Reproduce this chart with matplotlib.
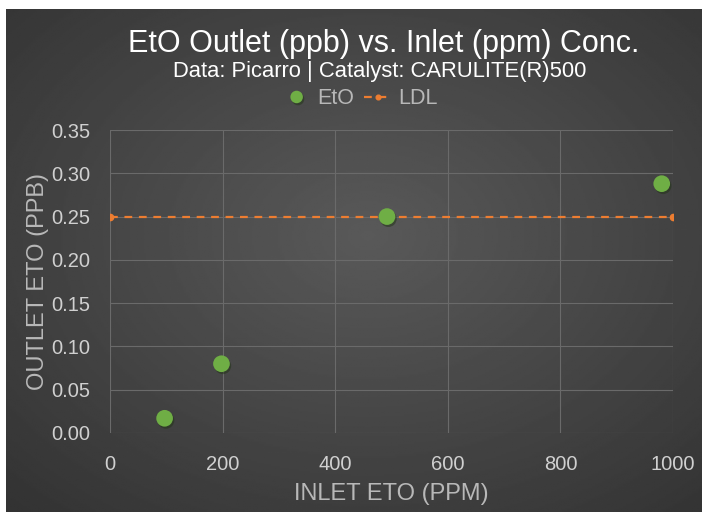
import numpy as np
import matplotlib
matplotlib.use("Agg")
import matplotlib.pyplot as plt
import matplotlib.patheffects as pe

plt.rcParams['font.family'] = ['Liberation Sans', 'DejaVu Sans']

inlet_ppm = [97, 198, 492, 980]
outlet_ppb = [0.017, 0.080, 0.250, 0.288]
ldl_x = [0, 1000]
ldl_y = [0.25, 0.25]

x_ticks = [0, 200, 400, 600, 800, 1000]
y_ticks = [0.00, 0.05, 0.10, 0.15, 0.20, 0.25, 0.30, 0.35]

green = "#6fae45"
orange = "#ed7d31"
tick_col = "#d0d0d0"
label_col = "#b8b8b8"

fig = plt.figure(figsize=(7.02, 5.12), dpi=100, facecolor="white")

# dark radial gradient background (white strip top/left as in the source)
bg = fig.add_axes([6 / 702, 0, 1 - 6 / 702, 1 - 9 / 512])
yy, xx = np.mgrid[0:1:300j, 0:1:400j]
r = np.sqrt(((xx - 0.52) / 0.9) ** 2 + ((yy - 0.45) / 0.9) ** 2)
shade = np.clip(0.35 - 0.18 * r, 0.2, 0.35)
bg.imshow(shade, cmap="gray", vmin=0, vmax=1, aspect="auto", extent=[0, 1, 0, 1])
bg.set_axis_off()

ax = fig.add_axes([110 / 702, 1 - 433 / 512, 563 / 702, 303 / 512])
ax.set_facecolor("none")

ax.plot(ldl_x, ldl_y, linestyle=(0, (3.5, 3)), color=orange, linewidth=1.6,
        marker="o", markersize=4.5, label="LDL", zorder=3)
ax.plot(inlet_ppm, outlet_ppb, linestyle="none", marker="o", markersize=12,
        color=green, markeredgewidth=0, label="EtO", zorder=4,
        path_effects=[pe.SimplePatchShadow(offset=(1, -1.5), alpha=0.5), pe.Normal()])

ax.set_xlim(0, 1000)
ax.set_ylim(0, 0.35)
ax.set_xticks(x_ticks)
ax.set_yticks(y_ticks)
ax.set_yticklabels([f"{v:.2f}" for v in y_ticks])
ax.grid(True, color="#6a6a6a", linewidth=0.8)
ax.set_axisbelow(True)
for s in ax.spines.values():
    s.set_visible(False)
ax.tick_params(length=0, colors=tick_col, labelsize=14.5)
ax.tick_params(axis="y", pad=14)
ax.tick_params(axis="x", pad=16)

ax.set_xlabel("INLET ETO (PPM)", color=label_col, fontsize=17, labelpad=6)
ax.set_ylabel("OUTLET ETO (PPB)", color=label_col, fontsize=17, labelpad=2)

fig.text(0.547, 1 - 44 / 512, "EtO Outlet (ppb) vs. Inlet (ppm) Conc.", ha="center",
         va="center", fontsize=22, color="white")
fig.text(0.541, 1 - 71 / 512, "Data: Picarro | Catalyst: CARULITE(R)500", ha="center",
         va="center", fontsize=15.8, color="white")

h, l = ax.get_legend_handles_labels()
leg = fig.legend([h[1], h[0]], [l[1], l[0]], loc="center", bbox_to_anchor=(0.513, 1 - 99 / 512),
                 ncol=2, frameon=False, fontsize=15.5, handlelength=1.3, columnspacing=0.45,
                 handletextpad=0.3, markerscale=0.75, borderpad=0)
for t in leg.get_texts():
    t.set_color(label_col)

fig.savefig("out.png", dpi=100, facecolor="white")
